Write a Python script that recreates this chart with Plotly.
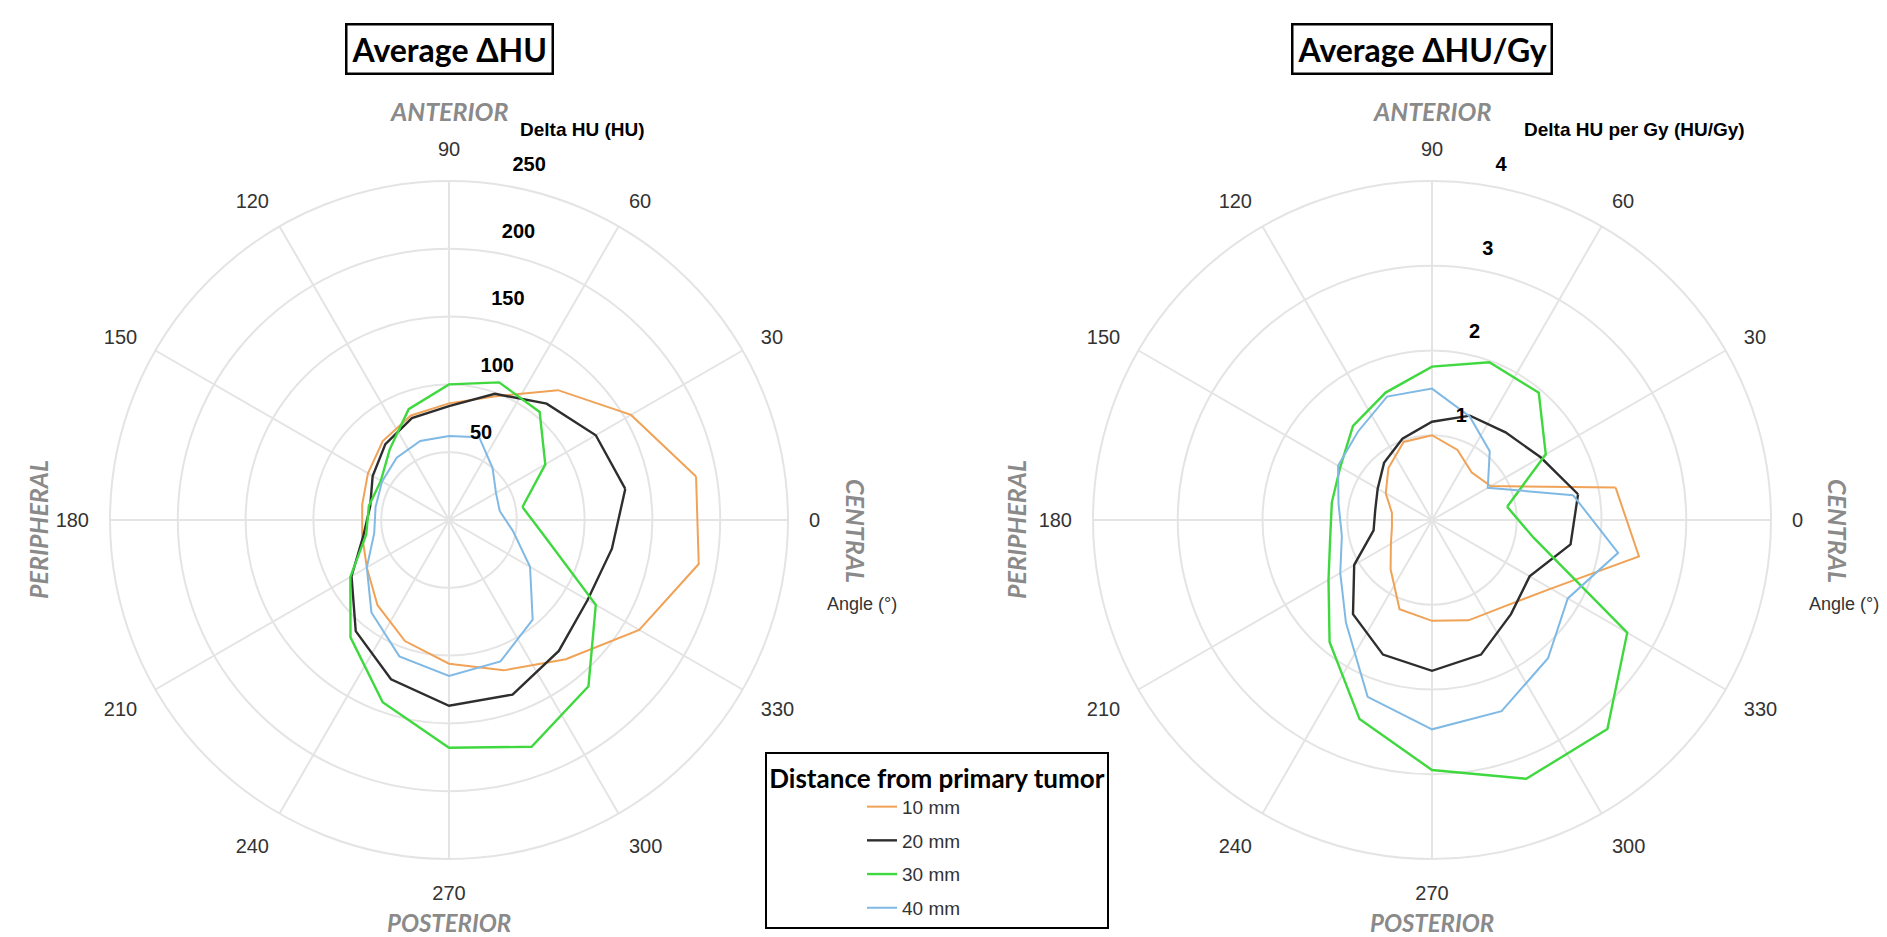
import plotly.graph_objects as go

# ---------------- data ----------------
angles = [10, 30, 50, 70, 90, 110, 130, 150, 170, 190, 210, 230, 250, 270, 290, 310, 330, 350]
series_names = ["10 mm", "20 mm", "30 mm", "40 mm"]

# Average delta HU (HU)
hu_10mm = [185, 155, 125, 97, 86, 82, 76, 69, 65, 65, 70, 82, 95, 106, 118, 134, 162, 187]
hu_20mm = [132, 125, 112, 99, 84, 80, 73, 65, 59, 64, 83, 107, 125, 137, 137, 126, 118, 122]
hu_30mm = [55, 82, 104, 108, 100, 87, 68, 58, 60, 62, 84, 113, 143, 168, 178, 160, 125, 72]
hu_40mm = [38, 40, 50, 65, 62, 62, 60, 57, 55, 56, 70, 89, 107, 115, 111, 96, 69, 48]

# Average delta HU per Gy (HU/Gy)
hugy_10mm = [2.20, 0.80, 0.73, 0.88, 1.00, 0.98, 0.80, 0.63, 0.48, 0.48, 0.56, 0.76, 1.12, 1.19, 1.26, 1.33, 1.62, 2.48]
hugy_20mm = [1.75, 1.48, 1.35, 1.31, 1.16, 1.02, 0.88, 0.74, 0.68, 0.70, 1.06, 1.45, 1.69, 1.78, 1.69, 1.45, 1.33, 1.66]
hugy_30mm = [0.90, 1.55, 1.96, 1.98, 1.81, 1.60, 1.45, 1.25, 1.20, 1.22, 1.41, 1.88, 2.50, 2.95, 3.25, 3.22, 2.66, 1.22]
hugy_40mm = [1.69, 0.76, 1.06, 1.30, 1.55, 1.55, 1.36, 1.28, 1.12, 1.08, 1.25, 1.58, 2.22, 2.47, 2.40, 2.13, 1.85, 2.23]

angle_ticks = [0, 30, 60, 90, 120, 150, 180, 210, 240, 270, 300, 330]
hu_ticks = [50, 100, 150, 200, 250]
hugy_ticks = [1, 2, 3, 4]

colors = ["#F0A257", "#2E2E2E", "#3FD83F", "#80B9E4"]
widths = [2.0, 2.4, 2.4, 2.0]

GRID = "#E4E4E4"
TXT = "#333333"

fig = go.Figure()

def close(v):
    return list(v) + [v[0]]

left_sets = [hu_10mm, hu_20mm, hu_30mm, hu_40mm]
right_sets = [hugy_10mm, hugy_20mm, hugy_30mm, hugy_40mm]

for i, name in enumerate(series_names):
    fig.add_trace(go.Scatterpolar(
        r=close(left_sets[i]), theta=close(angles), mode="lines", name=name,
        line=dict(color=colors[i], width=widths[i]), subplot="polar",
        legendgroup=name, showlegend=True))
for i, name in enumerate(series_names):
    fig.add_trace(go.Scatterpolar(
        r=close(right_sets[i]), theta=close(angles), mode="lines", name=name,
        line=dict(color=colors[i], width=widths[i]), subplot="polar2",
        legendgroup=name, showlegend=False))

W, H = 1887, 937
R = 339
def dom(cx, cy, r=R):
    return dict(x=[(cx - r) / W, (cx + r) / W], y=[1 - (cy + r) / H, 1 - (cy - r) / H])

def polar_cfg(cx, cy, rng, ticks):
    return dict(
        domain=dom(cx, cy),
        bgcolor="white",
        angularaxis=dict(
            rotation=0, direction="counterclockwise",
            tickvals=angle_ticks, ticktext=[str(a) for a in angle_ticks],
            tickfont=dict(family="Liberation Sans, Arial", size=20, color=TXT),
            ticks="outside", ticklen=16, tickcolor="rgba(0,0,0,0)",
            showgrid=True, gridcolor=GRID, gridwidth=2,
            showline=True, linecolor=GRID, linewidth=2,
        ),
        radialaxis=dict(
            range=rng, tickvals=ticks,
            # trailing blank lines lift the (centred) label block above its ring
            ticktext=[str(t) + "<br> <br> " for t in ticks],
            angle=81, side="clockwise", tickangle=81,
            tickfont=dict(family="Liberation Sans, Arial", size=20, color="black", weight="bold"),
            showline=False, ticks="",
            showgrid=True, gridcolor=GRID, gridwidth=2,
        ),
    )

cxL, cxR, cy = 441, 1424, 512
fig.update_layout(
    width=W, height=H,
    margin=dict(l=0, r=0, t=0, b=0),
    paper_bgcolor="white",
    polar=polar_cfg(cxL, cy, [0, 250], hu_ticks),
    polar2=polar_cfg(cxR, cy, [0, 4], hugy_ticks),
    showlegend=True,
    legend=dict(
        x=757 / W, y=1 - 744 / H, xanchor="left", yanchor="top",
        bgcolor="white", bordercolor="black", borderwidth=2,
        font=dict(family="Liberation Sans, Arial", size=19, color=TXT),
        title=dict(text="<b>Distance from primary tumor</b>", side="top center",
                   font=dict(family="Lato, Open Sans", size=26, color="black")),
        traceorder="grouped", tracegroupgap=6, indentation=95,
    ),
)

def ann(x, y, text, size, color="black", angle=0, family="Liberation Sans, Arial", **kw):
    fig.add_annotation(x=x / W, y=1 - y / H, xref="paper", yref="paper", text=text,
                       showarrow=False, textangle=angle, xanchor="center", yanchor="middle",
                       font=dict(size=size, color=color, family=family), **kw)

# titles
for cx, t in [(cxL, "Average ΔHU"), (1414, "Average ΔHU/Gy")]:
    ann(cx, 41, "<b>" + t + "</b>", 32, family="Lato, Open Sans",
        bordercolor="black", borderwidth=2.5, borderpad=4, bgcolor="white")

GRAY = "#8A8A8A"
for cx in (cxL, cxR):
    ann(cx, 103, "<b><i>ANTERIOR</i></b>", 25, color=GRAY, family="Lato, Open Sans")
    ann(cx, 914, "<b><i>POSTERIOR</i></b>", 24, color=GRAY, family="Lato, Open Sans")

ann(30, 522, "<b><i>PERIPHERAL</i></b>", 25, color=GRAY, angle=-90, family="Lato, Open Sans")
ann(1008, 522, "<b><i>PERIPHERAL</i></b>", 25, color=GRAY, angle=-90, family="Lato, Open Sans")
ann(848, 523, "<b><i>CENTRAL</i></b>", 25, color=GRAY, angle=90, family="Lato, Open Sans")
ann(1830, 523, "<b><i>CENTRAL</i></b>", 25, color=GRAY, angle=90, family="Lato, Open Sans")

ann(854, 596, "Angle (°)", 18, color=TXT)
ann(1836, 596, "Angle (°)", 18, color=TXT)

ann(574, 121, "<b>Delta HU (HU)</b>", 19)
ann(1626, 121, "<b>Delta HU per Gy (HU/Gy)</b>", 19)

fig.write_html("out.html")
